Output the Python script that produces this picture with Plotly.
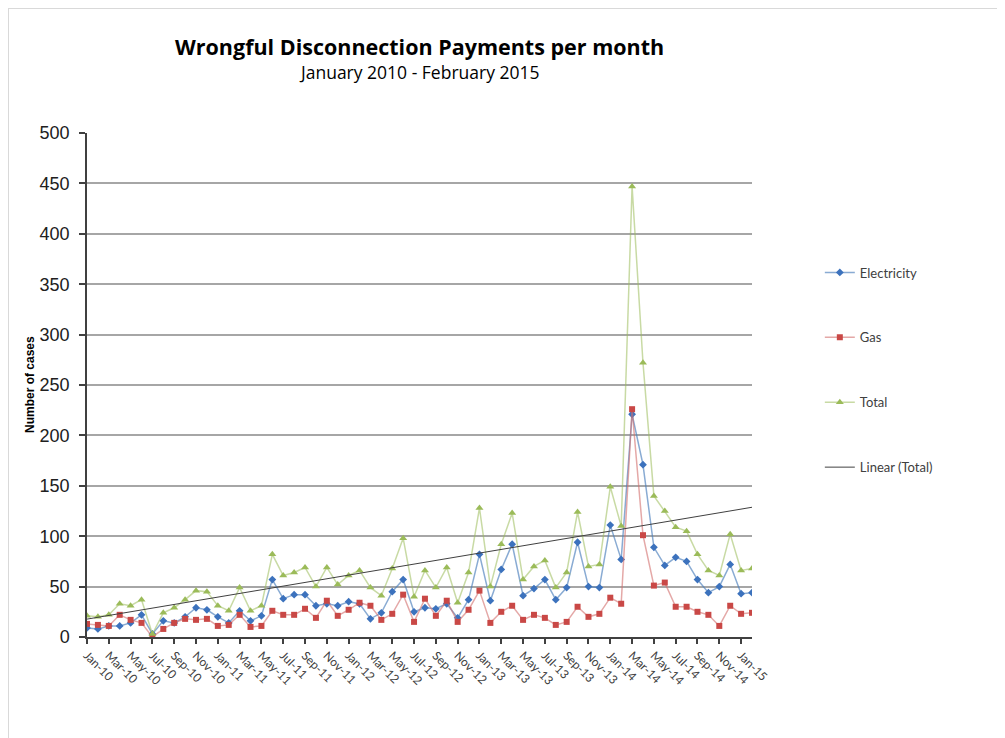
import numpy as np
import plotly.graph_objects as go

months = ["Jan", "Feb", "Mar", "Apr", "May", "Jun", "Jul", "Aug", "Sep", "Oct", "Nov", "Dec"]
categories = [f"{months[i % 12]}-{10 + i // 12}" for i in range(62)]

electricity = [9, 8, 11, 11, 14, 22, 3, 16, 14, 20, 29, 27,
               20, 14, 26, 16, 21, 57, 38, 42, 42, 31, 33, 31,
               35, 33, 18, 24, 45, 57, 25, 29, 28, 33, 19, 37,
               82, 36, 67, 92, 41, 48, 57, 37, 49, 94, 50, 49,
               111, 77, 221, 171, 89, 71, 79, 75, 57, 44, 50, 72,
               43, 44]
gas = [13, 12, 11, 22, 17, 14, 0, 8, 14, 18, 17, 18,
       11, 12, 22, 10, 11, 26, 22, 22, 28, 19, 36, 21,
       27, 34, 31, 17, 23, 42, 15, 38, 21, 36, 15, 27,
       46, 14, 25, 31, 17, 22, 19, 12, 15, 30, 20, 23,
       39, 33, 226, 101, 51, 54, 30, 30, 25, 22, 11, 31,
       23, 24]
total = [21, 20, 22, 33, 31, 37, 3, 24, 29, 37, 46, 45,
         31, 26, 49, 26, 31, 82, 61, 64, 69, 50, 69, 52,
         61, 66, 49, 41, 68, 98, 40, 66, 49, 69, 34, 64,
         128, 50, 92, 123, 57, 70, 76, 49, 64, 124, 70, 72,
         149, 110, 447, 272, 140, 125, 109, 105, 82, 66, 61, 102,
         66, 68]

x = list(range(len(categories)))
slope, intercept = np.polyfit(x, total, 1)
trend = [slope * xi + intercept for xi in x]

L, T, W, H = 79, 125, 665, 504  # plot area in figure pixels
B = T + H

fig = go.Figure()
fig.add_trace(go.Scatter(
    x=x, y=electricity, name="Electricity", mode="lines+markers",
    line=dict(color="rgba(74,126,187,0.65)", width=1.5),
    marker=dict(symbol="diamond", size=6, color="#3C72BD"),
    legendgroup="e"))
fig.add_trace(go.Scatter(
    x=x, y=gas, name="Gas", mode="lines+markers",
    line=dict(color="rgba(210,110,108,0.6)", width=1.5),
    marker=dict(symbol="square", size=6, color="#C94846"),
    legendgroup="g"))
fig.add_trace(go.Scatter(
    x=x, y=total, name="Total", mode="lines+markers",
    line=dict(color="rgba(155,187,89,0.55)", width=1.5),
    marker=dict(symbol="triangle-up", size=7, color="#9BBB59"),
    legendgroup="t"))
fig.add_trace(go.Scatter(
    x=x, y=trend, name="Linear (Total)", mode="lines",
    line=dict(color="#404040", width=1),
    legendgroup="l"))

fig.update_layout(
    width=1005, height=738,
    margin=dict(l=L, r=1005 - L - W, t=T, b=738 - B),
    paper_bgcolor="white", plot_bgcolor="white",
    showlegend=True,
    legend=dict(x=1.102, y=0.753, xanchor="left", yanchor="top",
                font=dict(family="Lato, Open Sans, sans-serif", size=13, color="#404040"),
                tracegroupgap=45, bgcolor="rgba(0,0,0,0)"),
    xaxis=dict(range=[0, 61], tickmode="array",
               tickvals=x[::2], ticktext=categories[::2],
               tickangle=45, ticks="outside", ticklen=5, tickwidth=1.5, tickcolor="#404040",
               showline=True, linecolor="#404040", linewidth=1.5,
               showgrid=False, zeroline=False,
               tickfont=dict(family="Lato, Open Sans, sans-serif", size=12, color="#404040")),
    yaxis=dict(range=[0, 500], dtick=50, ticks="outside", ticklen=6, tickwidth=1.5,
               tickcolor="#404040", showline=True, linecolor="#404040", linewidth=1.5,
               showgrid=True, gridcolor="#A6A6A6", gridwidth=1.5, zeroline=False,
               ticklabelstandoff=6,
               tickfont=dict(family="Liberation Sans, Arial, sans-serif", size=18, color="#202020")),
    shapes=[dict(type="rect", xref="paper", yref="paper",
                 x0=(0 - L) / W, x1=(1012 - L) / W,
                 y0=(B - 745) / H, y1=(B - 0) / H,
                 line=dict(color="#D9D9D9", width=2), layer="below")],
    annotations=[
        dict(text="<b>Wrongful Disconnection Payments per month</b>", xref="paper", yref="paper",
             x=0.5, y=(637 - 47) / 504, xanchor="center", yanchor="middle", showarrow=False,
             font=dict(family="Open Sans, Lato, sans-serif", size=21.5, color="black")),
        dict(text="January 2010 - February 2015", xref="paper", yref="paper",
             x=0.5, y=(637 - 72) / 504, xanchor="center", yanchor="middle", showarrow=False,
             font=dict(family="Open Sans, Lato, sans-serif", size=17.5, color="black")),
        dict(text="<b>Number of cases</b>", xref="paper", yref="paper",
             x=(30 - 87) / 665, y=0.5, xanchor="center", yanchor="middle", showarrow=False,
             textangle=-90,
             font=dict(family="Liberation Sans, Arial, sans-serif", size=12, color="black")),
    ],
)

fig.write_html("out.html")
